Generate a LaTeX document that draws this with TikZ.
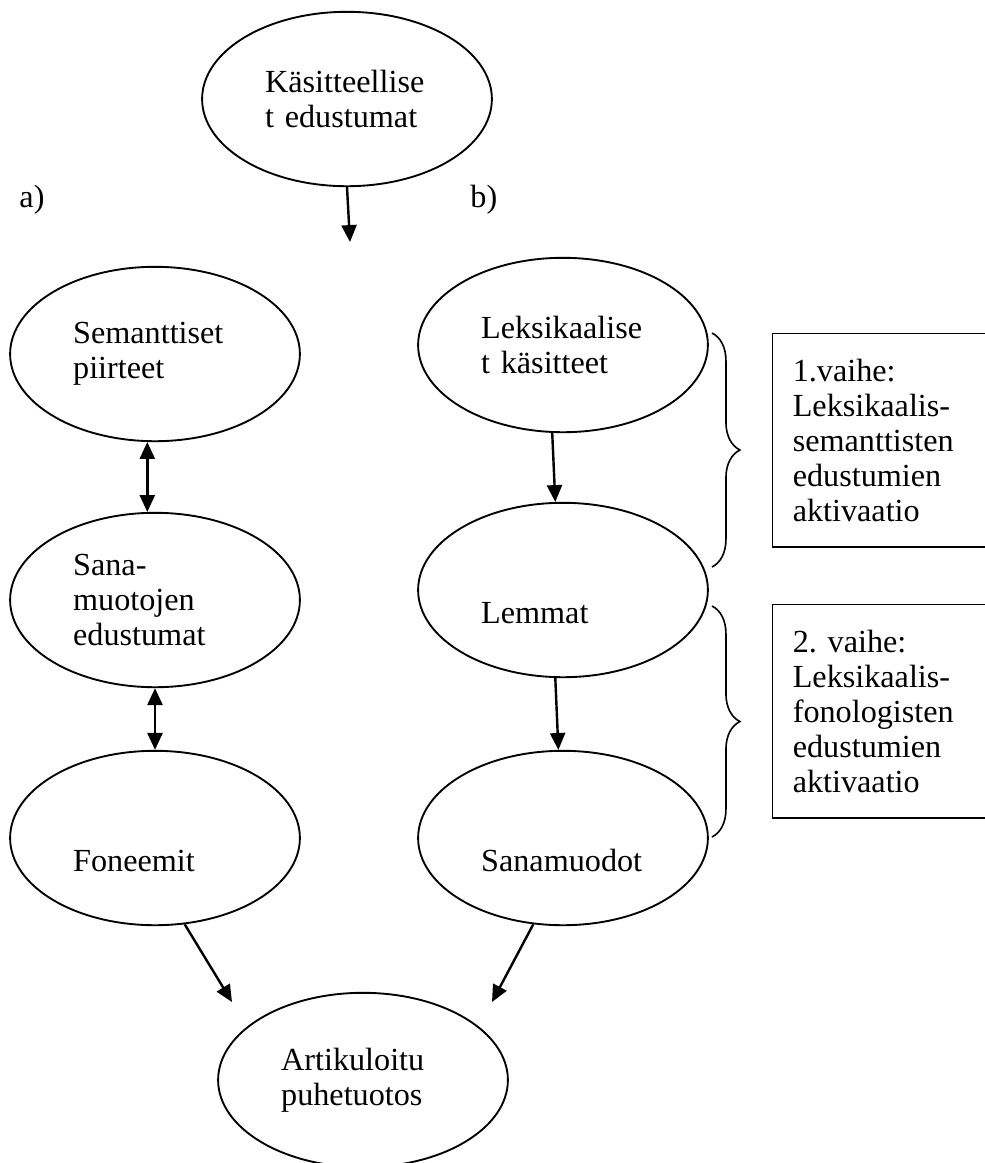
\documentclass[tikz,border=0pt]{standalone}
\usepackage{fontspec}
\setmainfont{Liberation Serif}
\usetikzlibrary{shapes.geometric,arrows.meta,decorations.pathreplacing}
\frenchspacing

\begin{document}
\begin{tikzpicture}[x=0.3727pt, y=-0.3727pt,
  every node/.style={font=\fontsize{12}{13}\selectfont},
  bubble/.style={draw, ellipse, line width=0.7pt, minimum width=108pt, minimum height=65pt, text width=61pt, align=left},
  phasebox/.style={draw, rectangle, line width=0.5pt, anchor=north west, minimum height=79.5pt, text width=85pt, inner xsep=7.5pt, align=left},
  arr/.style={line width=0.9pt, -{Triangle[width=5.6pt,length=6.3pt]}},
  darr/.style={line width=0.9pt, {Triangle[width=5.6pt,length=6.3pt]}-{Triangle[width=5.6pt,length=6.3pt]}},
  phasebrace/.style={line width=0.6pt, decorate, decoration={brace,amplitude=10.4pt}}]
  \useasboundingbox (0,0) rectangle (985,1163);

  % top
  \node[bubble] (kas) at (347,99) {Käsitteellise\\t edustumat};
  \coordinate (kasEnd) at (350,242);
  \draw[arr] (kas.south) -- (kasEnd);
  \node[anchor=west] (lblA) at (10,200) {a)};
  \node[anchor=west] (lblB) at (461,200) {b)};

  % a)
  \node[bubble] (sem) at (155,354) {Semanttiset\\piirteet};
  \node[bubble] (sana) at (155,600) {Sana-\\muotojen\\edustumat};
  \node[bubble] (fon) at (155,838) {\mbox{}\\[12pt]Foneemit};
  \draw[darr] (sem.265) -- (sana.95);
  \draw[darr] (sana.south) -- (fon.north);

  % b)
  \node[bubble] (lek) at (563,345) {Leksikaalise\\t käsitteet};
  \node[bubble] (lem) at (563,590) {\mbox{}\\[12pt]Lemmat};
  \node[bubble] (sanamuod) at (563,838) {\mbox{}\\[12pt]Sanamuodot};
  \draw[arr] (lek.263) -- (lem.95);
  \draw[arr] (lem.265) -- (sanamuod.93);

  % vaiheet
  \draw[phasebrace] (712,333) -- (712,567);
  \draw[phasebrace] (712,606) -- (712,837);
  \node[phasebox] (vaihe1) at (772,333) {1.vaihe:\\Leksikaalis-\\semanttisten\\edustumien\\aktivaatio};
  \node[phasebox] (vaihe2) at (772,604) {2. vaihe:\\Leksikaalis-\\fonologisten\\edustumien\\aktivaatio};

  % output
  \node[bubble] (art) at (363,1080) {Artikuloitu\\puhetuotos};
  \coordinate (artL) at (232,1002);
  \coordinate (artR) at (492,1002);
  \draw[arr] (fon.289) -- (artL);
  \draw[arr] (sanamuod.251) -- (artR);
\end{tikzpicture}
\end{document}
